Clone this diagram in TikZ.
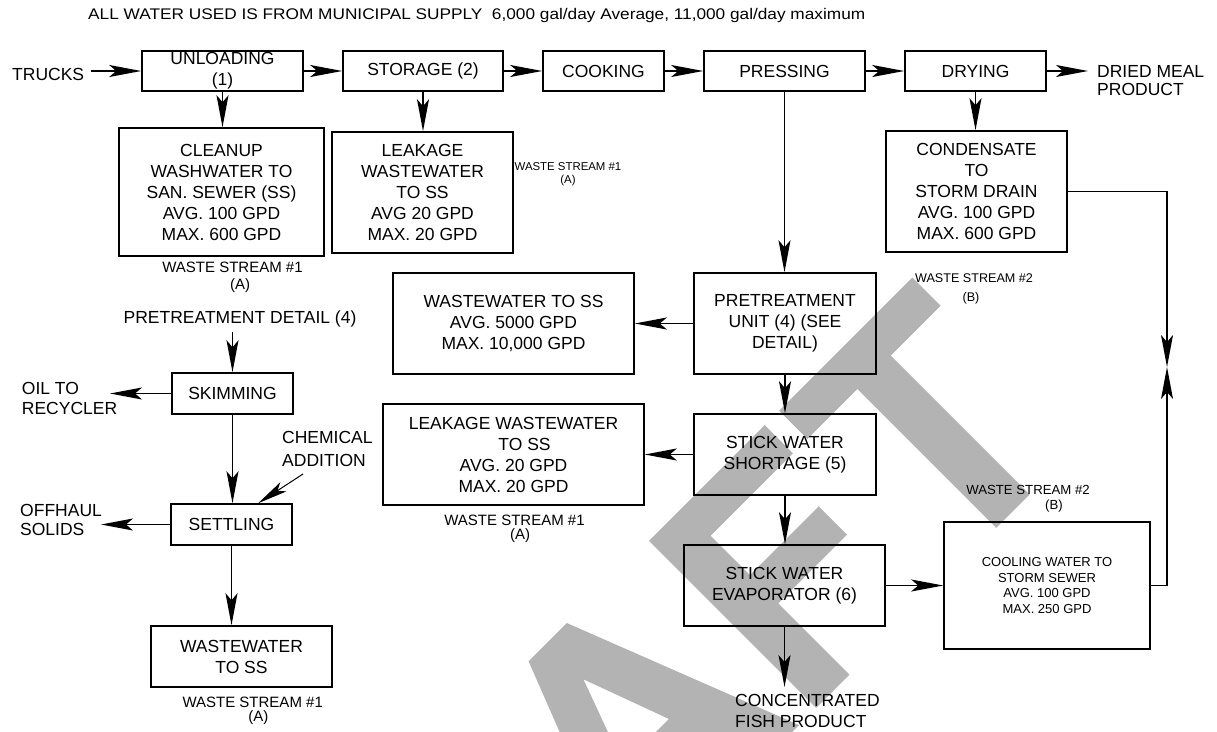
\documentclass[tikz,border=0pt]{standalone}
\usepackage{fontspec}
\setmainfont{Liberation Sans}
\usetikzlibrary{arrows.meta,calc}
\definecolor{wm}{RGB}{179,179,179}
\tikzset{
  box/.style={draw, line width=1.6pt, inner sep=0pt, align=center, font=\fontsize{17.5}{21}\selectfont},
  lbl/.style={inner sep=0pt, align=left, font=\fontsize{17.5}{21}\selectfont},
  arr/.style={line width=1.4pt, -{Stealth[length=32pt,width=12pt,inset=7pt]}},
  thinarr/.style={line width=1pt, -{Stealth[length=30pt,width=11pt,inset=7pt]}},
  ln/.style={line width=1.4pt},
  ws/.style={inner sep=0pt, font=\fontsize{15}{15}\selectfont},
}
\begin{document}
\begin{tikzpicture}[x=1pt,y=-1pt]
\useasboundingbox (0,0) rectangle (1217,731);
% watermark
\begin{scope}
\clip (0,0) rectangle (1217,731);
\begin{scope}[shift={(799pt,-725pt)},x={(0.2333pt,0.2333pt)},y={(-0.2333pt,0.2333pt)}]
\fill[wm] (73,0)--(216,0)--(216,305)--(511,305)--(511,426)--(216,426)--(216,595)--(569,595)--(569,716)--(73,716)--cycle;
\fill[wm] (631,716)--(1202,716)--(1202,595)--(988,595)--(988,0)--(845,0)--(845,595)--(631,595)--cycle;
\fill[wm,even odd rule] (-722,0)--(-568,0)--(-508,163)--(-220,163)--(-156,0)--(0,0)--(-279,716)--(-443,716)--cycle
  (-462,292)--(-266,292)--(-364,560)--cycle;
\end{scope}
\end{scope}

% title
\node[anchor=base west, inner sep=0pt, font=\fontsize{15.4}{16}\selectfont] (title) at (88,19.8)
  {\scalebox{1.12}[1]{ALL WATER USED IS FROM MUNICIPAL SUPPLY\ \ 6,000 gal/day Average, 11,000 gal/day maximum}};

% top row
\node[lbl, anchor=west] (trucks) at (12,74.5) {TRUCKS};
\node[box, minimum width=161pt, minimum height=40pt] (unl) at (222.5,71) {UNLOADING\\(1)};
\node[box, minimum width=160pt, minimum height=40pt] (sto) at (423,71) {STORAGE (2)};
\node[box, minimum width=121pt, minimum height=40pt] (cook) at (603.5,71) {COOKING};
\node[box, minimum width=161pt, minimum height=40pt] (pres) at (784.5,71) {PRESSING};
\node[box, minimum width=141pt, minimum height=40pt] (dry) at (975.5,71) {DRYING};
\node[lbl, anchor=north west, font=\fontsize{17.5}{17.7}\selectfont] (dmp) at (1097,65.5) {DRIED MEAL\\PRODUCT};
\coordinate (trk) at (90.5,71);
\coordinate (dmpin) at (1088,71);

% second row
\node[box, minimum width=205pt, minimum height=128pt] (clean) at (221.5,192) {CLEANUP\\WASHWATER TO\\SAN. SEWER (SS)\\AVG. 100 GPD\\MAX. 600 GPD};
\node[box, minimum width=181pt, minimum height=121pt] (leak) at (422.5,192.5) {LEAKAGE\\WASTEWATER\\TO SS\\AVG 20 GPD\\MAX. 20 GPD};
\node[box, minimum width=181pt, minimum height=121pt] (cond) at (976.5,191.5) {CONDENSATE\\TO\\STORM DRAIN\\AVG. 100 GPD\\MAX. 600 GPD};

\node[ws] (ws1a) at (232.5,267.7) {WASTE STREAM \#1};
\node[ws] (ws1aa) at (240,286) {(A)};
\node[ws, font=\fontsize{11.4}{12}\selectfont] (ws1b) at (568,167) {WASTE STREAM \#1};
\node[ws, font=\fontsize{11.4}{12}\selectfont] (ws1bb) at (568,181) {(A)};
\node[ws, font=\fontsize{12.6}{13}\selectfont] (ws2a) at (974,278.5) {WASTE STREAM \#2};
\node[ws, font=\fontsize{12.6}{13}\selectfont] (ws2aa) at (971,298) {(B)};

% centre column
\node[box, minimum width=241pt, minimum height=101pt] (ww1) at (513.5,323.5) {WASTEWATER TO SS\\AVG. 5000 GPD\\MAX. 10,000 GPD};
\node[box, minimum width=182pt, minimum height=101pt] (pre) at (785,323.5) {PRETREATMENT\\UNIT (4) (SEE\\DETAIL)};
\node[box, minimum width=261pt, minimum height=101pt] (leak2) at (513.5,454.5) {LEAKAGE WASTEWATER\\\hspace*{22pt}TO SS\\AVG. 20 GPD\\MAX. 20 GPD};
\node[box, minimum width=182pt, minimum height=81pt] (short) at (785,454.5) {STICK WATER\\SHORTAGE (5)};
\node[box, minimum width=201pt, minimum height=81pt] (evap) at (784.5,585.5) {STICK WATER\\EVAPORATOR (6)};
\node[box, minimum width=206pt, minimum height=127pt, font=\fontsize{13}{15.7}\selectfont] (cool) at (1047,585.5) {COOLING WATER TO\\STORM SEWER\\AVG. 100 GPD\\MAX. 250 GPD};
\node[lbl, anchor=north west] (conc) at (735,694.5) {CONCENTRATED\\FISH PRODUCT};
\coordinate (concin) at (784.5,687);
\node[ws] (ws1c) at (514.5,520) {WASTE STREAM \#1};
\node[ws] (ws1cc) at (520,536) {(A)};
\node[ws, font=\fontsize{13.2}{14}\selectfont] (ws2b) at (1028,490) {WASTE STREAM \#2};
\node[ws, font=\fontsize{13.2}{14}\selectfont] (ws2bb) at (1054,506) {(B)};
\coordinate (meet) at (1167,367);

% pretreatment detail
\node[lbl, anchor=base, align=center] (ptd) at (240,323) {PRETREATMENT DETAIL (4)};
\coordinate (ptdout) at (232.5,332);
\node[box, minimum width=121pt, minimum height=41pt] (skim) at (232.5,393.5) {SKIMMING};
\node[lbl, anchor=north west, font=\fontsize{17.5}{20}\selectfont] (oil) at (21.7,382) {OIL TO\\RECYCLER};
\coordinate (oilin) at (110,393.5);
\node[lbl, anchor=north west, font=\fontsize{17.5}{22.7}\selectfont] (chem) at (282,431) {CHEMICAL\\ADDITION};
\coordinate (chemout) at (303,474);
\node[box, minimum width=121pt, minimum height=41pt] (settle) at (231.5,524.5) {SETTLING};
\node[lbl, anchor=north west, font=\fontsize{17.5}{19.5}\selectfont] (off) at (20,504) {OFFHAUL\\SOLIDS};
\coordinate (offin) at (101,524.5);
\node[box, minimum width=181pt, minimum height=61pt] (ww2) at (241.5,656.5) {WASTEWATER\\TO SS};
\node[ws] (ws1d) at (252.7,702.3) {WASTE STREAM \#1};
\node[ws] (ws1dd) at (258.3,717.3) {(A)};

% connectors
\draw[arr] (trk) -- (unl.west);
\draw[arr] (unl.east) -- (sto.west);
\draw[arr] (sto.east) -- (cook.west);
\draw[arr] (cook.east) -- (pres.west);
\draw[arr] (pres.east) -- (dry.west);
\draw[arr] (dry.east) -- (dmpin);
\draw[arr] (unl.south) -- (unl.south |- clean.north);
\draw[arr] (sto.south) -- (sto.south |- leak.north);
\draw[arr] (dry.south) -- (dry.south |- cond.north);
\draw[arr] (pres.south) -- (pres.south |- pre.north);
\draw[arr] (pre.west) -- (ww1.east);
\draw[arr] (pre.south) -- (short.north);
\draw[arr] (short.west) -- (leak2.east);
\draw[arr] (short.south) -- (short.south |- evap.north);
\draw[arr] (evap.south) -- (concin);
\draw[arr] (evap.east) -- (cool.west);
\draw[arr] (cond.east) -| (meet);
\draw[arr] (cool.east) -| (meet);

\draw[arr] (ptdout) -- (skim.north);
\draw[arr] (skim.west) -- (oilin);
\draw[arr] (skim.south) -- (skim.south |- settle.north);
\draw[thinarr] (chemout) -- ([xshift=88pt]settle.north west);
\draw[arr] (settle.west) -- (offin);
\draw[arr] (settle.south) -- (settle.south |- ww2.north);
\end{tikzpicture}
\end{document}
